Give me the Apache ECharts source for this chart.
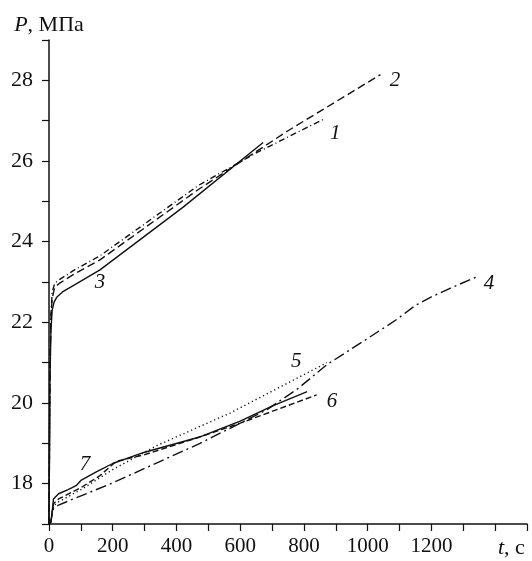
<!DOCTYPE html>
<html>
<head>
<meta charset="utf-8">
<script src="https://cdn.jsdelivr.net/npm/echarts@6/dist/echarts.min.js"></script>
<style>
  html, body { margin: 0; padding: 0; background: #fff; }
  #chart { width: 532px; height: 561px; }
</style>
</head>
<body>
<div id="chart"></div>
<script>
// кривые давления P(t): [t, c ; P, МПа]
const curve1 = [[0, 17], [3, 20.8], [6, 22.2], [10, 22.75], [18, 22.97], [35, 23.07], [80, 23.3], [160, 23.65], [470, 25.4], [650, 26.2], [860, 27.03]];
const curve2 = [[0, 17], [3, 20.8], [6, 22.1], [10, 22.6], [18, 22.87], [35, 22.98], [80, 23.2], [160, 23.55], [470, 25.3], [750, 26.75], [1040, 28.14]];
const curve3 = [[0, 17], [3, 20.5], [6, 21.8], [10, 22.3], [16, 22.5], [25, 22.63], [45, 22.77], [80, 22.93], [160, 23.3], [420, 24.85], [672, 26.46]];
const curve4 = [[0, 17], [6, 17.05], [10, 17.25], [14, 17.38], [30, 17.47], [200, 18.02], [474, 19.0], [683, 19.83], [780, 20.35], [872, 20.95], [1000, 21.6], [1091, 22.07], [1150, 22.42], [1200, 22.63], [1260, 22.85], [1346, 23.14]];
const curve5 = [[0, 17], [6, 17.05], [10, 17.3], [14, 17.45], [30, 17.55], [100, 17.85], [200, 18.35], [340, 18.95], [568, 19.75], [872, 21.0]];
const curve6 = [[0, 17], [6, 17.05], [10, 17.3], [14, 17.5], [30, 17.62], [100, 17.9], [160, 18.2], [210, 18.55], [300, 18.72], [470, 19.15], [600, 19.5], [840, 20.2]];
const curve7 = [[0, 17], [6, 17.05], [10, 17.3], [14, 17.62], [30, 17.75], [60, 17.85], [85, 17.95], [100, 18.08], [150, 18.3], [200, 18.5], [300, 18.78], [470, 19.15], [600, 19.55], [700, 19.92], [810, 20.28]];

// подписи кривых (в координатах графика)
const curveNames = ['1', '2', '3', '4', '5', '6', '7'];
const labelPos = [[898, 26.69], [1086, 28.0], [160, 22.98], [1381, 22.96], [776, 21.02], [888, 20.03], [113, 18.47]];

const xTicks = [0, 1500, 100];   // min, max, шаг
const yTicks = [17, 29, 1];

const curves = [curve1, curve2, curve3, curve4, curve5, curve6, curve7];
const dashes = [[6, 3, 1, 3], [8, 4], 'solid', [11, 4, 2, 4], [1.2, 3], [6, 3], 'solid'];

const serif = 'Liberation Serif';
const ink = '#111';

let myChart = echarts.init(document.getElementById('chart'));

let series = curves.map(function (data, i) {
    return {
        name: curveNames[i],
        type: 'line',
        data: data,
        symbol: 'none',
        lineStyle: { color: ink, width: 1.4, type: dashes[i] },
        markPoint: {
            symbol: 'circle',
            symbolSize: 1,
            itemStyle: { color: 'transparent' },
            label: {
                show: true,
                position: 'inside',
                formatter: curveNames[i],
                fontFamily: serif,
                fontStyle: 'italic',
                fontSize: 21,
                color: ink
            },
            data: [{ coord: labelPos[i] }]
        }
    };
});

let option = {
    animation: false,
    backgroundColor: '#fff',
    grid: { left: 49, right: 5, top: 40, bottom: 37 },
    xAxis: {
        type: 'value',
        min: xTicks[0],
        max: xTicks[1],
        interval: xTicks[2],
        splitLine: { show: false },
        axisLine: { lineStyle: { color: ink, width: 1.5 } },
        axisTick: { length: 7, lineStyle: { color: ink, width: 1.2 } },
        axisLabel: {
            margin: 12,
            fontFamily: serif,
            fontSize: 21,
            color: ink,
            formatter: function (v) { return (v % 200 === 0 && v <= 1200) ? v : ''; }
        }
    },
    yAxis: {
        type: 'value',
        min: yTicks[0],
        max: yTicks[1],
        interval: yTicks[2],
        name: '{i|P}, МПа',
        nameLocation: 'end',
        nameGap: 4,
        nameTextStyle: {
            fontFamily: serif,
            fontSize: 22,
            color: ink,
            rich: { i: { fontFamily: serif, fontSize: 22, fontStyle: 'italic', color: ink } }
        },
        splitLine: { show: false },
        axisLine: { show: true, lineStyle: { color: ink, width: 1.5 } },
        axisTick: { show: true, length: 7, lineStyle: { color: ink, width: 1.2 } },
        axisLabel: {
            margin: 16,
            fontFamily: serif,
            fontSize: 22,
            color: ink,
            formatter: function (v) { return v % 2 === 0 ? v : ''; }
        }
    },
    graphic: [
        {
            type: 'text',
            left: 498,
            top: 537,
            style: {
                text: '{i|t}, с',
                fontFamily: serif,
                fontSize: 22,
                fill: ink,
                rich: { i: { fontFamily: serif, fontSize: 22, fontStyle: 'italic', fill: ink } }
            }
        }
    ],
    series: series
};
myChart.setOption(option);
</script>
</body>
</html>
